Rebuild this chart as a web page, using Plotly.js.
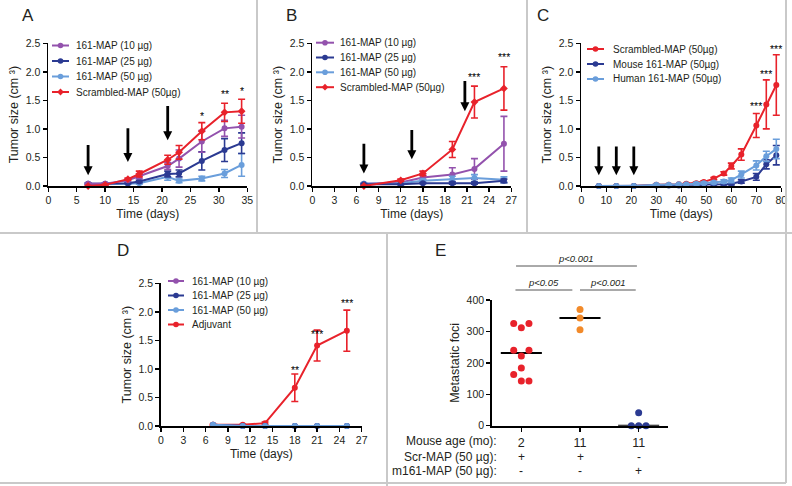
<!DOCTYPE html>
<html><head><meta charset="utf-8">
<script src="https://cdn.plot.ly/plotly-3.0.1.min.js"></script>
<style>html,body{margin:0;padding:0;background:#fff}#chart{width:792px;height:486px}</style>
</head><body><div id="chart"></div>
<script>
// ---------- Panel A ----------
const daysA = [7, 10, 14, 16, 21, 23, 27, 31, 34];
const a10 = [0.04, 0.04, 0.10, 0.17, 0.35, 0.48, 0.78, 1.01, 1.04];
const a10Err = [0.01, 0.01, 0.02, 0.04, 0.06, 0.15, 0.19, 0.14, 0.20];
const a25 = [0.04, 0.04, 0.05, 0.08, 0.21, 0.22, 0.44, 0.63, 0.75];
const a25Err = [0.01, 0.01, 0.01, 0.02, 0.05, 0.06, 0.16, 0.20, 0.18];
const a50 = [0.04, 0.03, 0.04, 0.05, 0.16, 0.09, 0.13, 0.22, 0.37];
const a50Err = [0.01, 0.01, 0.01, 0.02, 0.06, 0.03, 0.04, 0.07, 0.20];
const aScr = [0.00, 0.02, 0.12, 0.21, 0.46, 0.59, 0.96, 1.29, 1.31];
const aScrErr = [0.01, 0.01, 0.02, 0.05, 0.08, 0.12, 0.15, 0.16, 0.21];
const aInjection = [7, 14, 21];
const aStarsX = [27, 31, 34];
const aStarsY = [1.27, 1.65, 1.71];
const aStars = ['*', '**', '*'];

// ---------- Panel B ----------
const daysB = [7, 12, 15, 19, 22, 26];
const b10 = [0.04, 0.06, 0.15, 0.20, 0.30, 0.74];
const b10Err = [0.01, 0.02, 0.04, 0.12, 0.18, 0.48];
const b25 = [0.03, 0.03, 0.05, 0.05, 0.05, 0.09];
const b25Err = [0.01, 0.01, 0.01, 0.02, 0.02, 0.03];
const b50 = [0.04, 0.05, 0.09, 0.12, 0.14, 0.11];
const b50Err = [0.01, 0.01, 0.03, 0.05, 0.06, 0.05];
const bScr = [0.00, 0.10, 0.22, 0.64, 1.47, 1.71];
const bScrErr = [0.01, 0.02, 0.04, 0.14, 0.28, 0.38];
const bInjection = [7, 13.5, 20.7];
const bStarsX = [22, 26];
const bStarsY = [1.95, 2.30];
const bStars = ['***', '***'];

// ---------- Panel C ----------
const daysC = [7, 14, 21, 30, 35, 39, 42, 46, 49, 53, 57, 60, 64, 70, 74, 78];
const cScr = [0, 0, 0, 0.02, 0.02, 0.03, 0.04, 0.05, 0.07, 0.13, 0.22, 0.35, 0.55, 1.06, 1.43, 1.77];
const cScrErr = [0, 0, 0, 0.01, 0.01, 0.01, 0.01, 0.02, 0.02, 0.02, 0.03, 0.05, 0.10, 0.21, 0.43, 0.53];
const cMouse = [0, 0, 0, 0.01, 0.01, 0.01, 0.02, 0.02, 0.02, 0.03, 0.03, 0.04, 0.08, 0.16, 0.38, 0.54];
const cMouseErr = [0, 0, 0, 0.005, 0.005, 0.01, 0.01, 0.01, 0.01, 0.01, 0.01, 0.02, 0.03, 0.06, 0.08, 0.17];
const cHuman = [0, 0, 0, 0.02, 0.02, 0.03, 0.03, 0.04, 0.05, 0.06, 0.08, 0.10, 0.20, 0.36, 0.52, 0.65];
const cHumanErr = [0, 0, 0, 0.01, 0.01, 0.01, 0.01, 0.02, 0.02, 0.02, 0.03, 0.04, 0.06, 0.08, 0.09, 0.17];
const cInjection = [7, 14, 21];
const cStarsX = [70, 74, 78];
const cStarsY = [1.45, 2.00, 2.44];
const cStars = ['***', '***', '***'];

// ---------- Panel D ----------
const daysD = [7, 11, 14, 18, 21, 25];
const d10 = [0.02, 0, 0, 0, 0, 0];
const d25 = [0.02, 0, 0, 0, 0, 0];
const d50 = [0.02, 0, 0, 0, 0, 0];
const dAdj = [0.02, 0.02, 0.05, 0.67, 1.41, 1.67];
const dAdjErr = [0.01, 0.01, 0.02, 0.24, 0.27, 0.36];
const dStarsX = [18, 21, 25];
const dStarsY = [1.02, 1.65, 2.19];
const dStars = ['**', '***', '***'];

// ---------- Panel E ----------
const eAges = ['2', '11', '11'];
const eScr = ['+', '+', '-'];
const eM161 = ['-', '-', '+'];
const eYoungScr = [325, 325, 312, 240, 240, 222, 184, 163, 142, 142];
const eOldScr = [370, 343, 305];
const eOldM161 = [41, 0, 0, 0];
const eJitterYoung = [-0.13, 0.13, 0, -0.13, 0.13, 0, 0, -0.13, 0, 0.13];
const eJitterOld = [0, 0, 0];
const eJitterM161 = [0, -0.125, 0, 0.125];
const ePvalues = ['p&lt;0.001', 'p&lt;0.05', 'p&lt;0.001'];

// ---------- styling ----------
const PURPLE = '#9352ad', NAVY = '#2b3a92', LIGHT = '#6a9edb', RED = '#e8222b', ORANGE = '#f28a2a';
const FONT = 'Liberation Sans, Arial, Helvetica, sans-serif';
const TXT = '#231f20';
const W = 792, H = 486;
const px = x => x / W;
const py = y => 1 - y / H;

function series(xa, ya, x, y, err, color, name, symbol) {
  const t = {
    type: 'scatter', mode: 'lines+markers', x: x, y: y, name: name,
    xaxis: xa, yaxis: ya, showlegend: false, cliponaxis: false,
    line: {color: color, width: 2},
    marker: {color: color, size: 6, symbol: symbol || 'circle'},
    error_y: {visible: false}
  };
  if (err) t.error_y = {type: 'data', array: err, visible: true, color: color, thickness: 1.6, width: 3.5};
  return t;
}

const data = [
  series('x', 'y', daysA, a50, a50Err, LIGHT, '161-MAP (50 µg)'),
  series('x', 'y', daysA, a25, a25Err, NAVY, '161-MAP (25 µg)'),
  series('x', 'y', daysA, a10, a10Err, PURPLE, '161-MAP (10 µg)'),
  series('x', 'y', daysA, aScr, aScrErr, RED, 'Scrambled-MAP (50µg)', 'diamond'),

  series('x2', 'y2', daysB, b10, b10Err, PURPLE, '161-MAP (10 µg)'),
  series('x2', 'y2', daysB, b50, b50Err, LIGHT, '161-MAP (50 µg)'),
  series('x2', 'y2', daysB, b25, b25Err, NAVY, '161-MAP (25 µg)'),
  series('x2', 'y2', daysB, bScr, bScrErr, RED, 'Scrambled-MAP (50µg)', 'diamond'),

  series('x3', 'y3', daysC, cScr, cScrErr, RED, 'Scrambled-MAP (50µg)'),
  series('x3', 'y3', daysC, cMouse, cMouseErr, NAVY, 'Mouse 161-MAP (50µg)'),
  series('x3', 'y3', daysC, cHuman, cHumanErr, LIGHT, 'Human 161-MAP (50µg)'),

  series('x4', 'y4', daysD, dAdj, dAdjErr, RED, 'Adjuvant'),
  series('x4', 'y4', daysD, d10, null, PURPLE, '161-MAP (10 µg)'),
  series('x4', 'y4', daysD, d25, null, NAVY, '161-MAP (25 µg)'),
  series('x4', 'y4', daysD, d50, null, LIGHT, '161-MAP (50 µg)')
];

// Panel E scatter groups
const eGroups = [
  {vals: eYoungScr, jit: eJitterYoung, cat: 0, color: RED},
  {vals: eOldScr, jit: eJitterOld, cat: 1, color: ORANGE},
  {vals: eOldM161, jit: eJitterM161, cat: 2, color: NAVY}
];
function median(a) {
  const s = a.slice().sort((p, q) => p - q), n = s.length;
  return n % 2 ? s[(n - 1) / 2] : (s[n / 2 - 1] + s[n / 2]) / 2;
}
eGroups.forEach(g => {
  const m = median(g.vals);
  data.push({type: 'scatter', mode: 'lines', xaxis: 'x5', yaxis: 'y5', showlegend: false,
    x: [g.cat - 0.35, g.cat + 0.35], y: [m, m], line: {color: '#000', width: 2}, cliponaxis: false});
});
eGroups.forEach(g => {
  data.push({type: 'scatter', mode: 'markers', xaxis: 'x5', yaxis: 'y5', showlegend: false,
    cliponaxis: false, x: g.vals.map((v, i) => g.cat + g.jit[i]), y: g.vals,
    marker: {color: g.color, size: 7}});
});

const AXW = 1.8;
function xax(domain, range, dtick, anchor, title) {
  const a = {
    domain: domain.map(px), range: range, dtick: dtick, tick0: 0, anchor: anchor,
    showline: true, linecolor: '#000', linewidth: AXW, ticks: 'outside', ticklen: 4,
    tickwidth: 1.5, tickcolor: '#000', showgrid: false, zeroline: false,
    tickfont: {family: FONT, size: 10.5, color: TXT}
  };
  if (title) a.title = {text: title, font: {family: FONT, size: 12, color: TXT}, standoff: 4};
  return a;
}
function yax(domain, range, dtick, anchor, title, fmt) {
  return {
    domain: [py(domain[1]), py(domain[0])], range: range, dtick: dtick, tick0: 0, anchor: anchor,
    showline: true, linecolor: '#000', linewidth: AXW, ticks: 'outside', ticklen: 4,
    tickwidth: 1.5, tickcolor: '#000', showgrid: false, zeroline: false, tickformat: fmt,
    tickfont: {family: FONT, size: 10.5, color: TXT},
    title: {text: title, font: {family: FONT, size: 12.5, color: TXT}, standoff: 4}
  };
}
const TSIZE = 'Tumor size (cm \u00b3)';
const TIME = 'Time (days)';

const layout = {
  width: W, height: H, margin: {l: 0, r: 0, t: 0, b: 0},
  paper_bgcolor: '#fff', plot_bgcolor: 'rgba(0,0,0,0)', showlegend: false,
  font: {family: FONT, color: TXT},
  xaxis: xax([48.3, 247.3], [0, 35], 5, 'y', TIME),
  yaxis: yax([43.3, 186], [0, 2.5], 0.5, 'x', TSIZE, '.1f'),
  xaxis2: xax([312.3, 511.3], [0, 27], 3, 'y2', TIME),
  yaxis2: yax([43.3, 186], [0, 2.5], 0.5, 'x2', TSIZE, '.1f'),
  xaxis3: xax([581.3, 781.3], [0, 80], 10, 'y3', TIME),
  yaxis3: yax([43.3, 186], [0, 2.5], 0.5, 'x3', TSIZE, '.1f'),
  xaxis4: xax([161, 361.7], [0, 27], 3, 'y4', TIME),
  yaxis4: yax([283.3, 426], [0, 2.5], 0.5, 'x4', TSIZE, '.1f'),
  xaxis5: Object.assign(xax([492, 668], [-0.5, 2.5], 1, 'y5', null), {
    tickmode: 'array', tickvals: [0, 1, 2], ticktext: eAges,
    tickfont: {family: FONT, size: 12.5, color: TXT}}),
  yaxis5: yax([300, 425.7], [0, 400], 100, 'x5', 'Metastatic foci'),
  shapes: [], annotations: []
};

// panel frames
const BORDER = '#c9c9c9';
[[0, 233, 792, 233], [257, 0, 257, 233], [527, 0, 527, 233], [387, 233, 387, 486],
 [786, 0, 786, 483], [0, 483, 786, 483]].forEach(b => {
  layout.shapes.push({type: 'line', xref: 'paper', yref: 'paper', x0: px(b[0]), y0: py(b[1]),
    x1: px(b[2]), y1: py(b[3]), line: {color: BORDER, width: 2}});
});

// panel letters
[['A', 28, 15], ['B', 291, 15], ['C', 543, 15], ['D', 123, 250], ['E', 440, 250]].forEach(l => {
  layout.annotations.push({text: l[0], xref: 'paper', yref: 'paper', x: px(l[1]), y: py(l[2]),
    showarrow: false, xanchor: 'center', yanchor: 'middle', font: {family: FONT, size: 17, color: TXT}});
});

// manual legends
function legend(names, colors, symbols, rows, lx0, lx1, tx) {
  names.forEach((n, i) => {
    const y = rows[i];
    layout.shapes.push({type: 'line', xref: 'paper', yref: 'paper', x0: px(lx0), x1: px(lx1),
      y0: py(y), y1: py(y), line: {color: colors[i], width: 2}});
    const cx = (lx0 + lx1) / 2, r = 2.8;
    if (symbols[i] === 'diamond') {
      layout.shapes.push({type: 'path', xref: 'paper', yref: 'paper',
        path: `M${px(cx)},${py(y - 3.4)} L${px(cx + 3.4)},${py(y)} L${px(cx)},${py(y + 3.4)} L${px(cx - 3.4)},${py(y)} Z`,
        fillcolor: colors[i], line: {width: 0}});
    } else {
      layout.shapes.push({type: 'circle', xref: 'paper', yref: 'paper', x0: px(cx - r), x1: px(cx + r),
        y0: py(y + r), y1: py(y - r), fillcolor: colors[i], line: {width: 0}});
    }
    layout.annotations.push({text: n, xref: 'paper', yref: 'paper', x: px(tx), y: py(y),
      xanchor: 'left', yanchor: 'middle', showarrow: false, font: {family: FONT, size: 10, color: TXT}});
  });
}
const namesABD = ['161-MAP (10 µg)', '161-MAP (25 µg)', '161-MAP (50 µg)'];
legend(namesABD.concat(['Scrambled-MAP (50µg)']), [PURPLE, NAVY, LIGHT, RED],
  ['circle', 'circle', 'circle', 'diamond'], [45.5, 61, 76.5, 92], 52, 69, 74);
legend(namesABD.concat(['Scrambled-MAP (50µg)']), [PURPLE, NAVY, LIGHT, RED],
  ['circle', 'circle', 'circle', 'diamond'], [42.7, 57.5, 72.3, 87.2], 316, 334, 338);
legend(['Scrambled-MAP (50µg)', 'Mouse 161-MAP (50µg)', 'Human 161-MAP (50µg)'], [RED, NAVY, LIGHT],
  ['circle', 'circle', 'circle'], [49, 64, 79], 587, 604, 611);
legend(namesABD.concat(['Adjuvant']), [PURPLE, NAVY, LIGHT, RED],
  ['circle', 'circle', 'circle', 'circle'], [281, 295.5, 310, 324.5], 168, 184, 190);

// injection arrows drawn as shapes in data coordinates
// pxX / pxY: pixels per data unit of each subplot, used only to size the arrow heads
function arrows(xr, yr, pxX, pxY, days, tips, tails) {
  const hl = 9 / pxY, hw = 4.5 / pxX;
  days.forEach((d, i) => {
    layout.shapes.push({type: 'line', xref: xr, yref: yr, x0: d, x1: d, y0: tails[i], y1: tips[i] + hl * 0.8,
      line: {color: '#000', width: 2.8}});
    layout.shapes.push({type: 'path', xref: xr, yref: yr,
      path: `M${d - hw},${tips[i] + hl} L${d + hw},${tips[i] + hl} L${d},${tips[i]} Z`,
      fillcolor: '#000', line: {width: 0}});
  });
}
const pyTop = 142.7 / 2.5;
arrows('x', 'y', 199 / 35, pyTop, aInjection, [0.19, 0.42, 0.80], [0.72, 1.01, 1.40]);
arrows('x2', 'y2', 199 / 27, pyTop, bInjection, [0.22, 0.47, 1.31], [0.74, 0.98, 1.84]);
arrows('x3', 'y3', 200 / 80, pyTop, cInjection, [0.19, 0.19, 0.19], [0.69, 0.69, 0.69]);

// significance stars
function stars(xr, yr, xs, ys, labels) {
  xs.forEach((x, i) => {
    layout.annotations.push({xref: xr, yref: yr, x: x, y: ys[i], text: labels[i], showarrow: false,
      yanchor: 'middle', yshift: -2.5, font: {family: FONT, size: 10.5, color: '#000'}});
  });
}
stars('x', 'y', aStarsX, aStarsY, aStars);
stars('x2', 'y2', bStarsX, bStarsY, bStars);
stars('x3', 'y3', cStarsX, cStarsY, cStars);
stars('x4', 'y4', dStarsX, dStarsY, dStars);

// panel E: comparison brackets
const eCat = c => (492 + (c + 0.5) * (176 / 3));
[[-0.09, 1.97, 266, 0], [-0.1, 0.87, 290, 1], [1.0, 1.95, 290, 2]].forEach(b => {
  layout.shapes.push({type: 'line', xref: 'paper', yref: 'paper', x0: px(eCat(b[0])), x1: px(eCat(b[1])),
    y0: py(b[2]), y1: py(b[2]), line: {color: '#555', width: 1}});
  layout.annotations.push({xref: 'paper', yref: 'paper', x: px(eCat((b[0] + b[1]) / 2)), y: py(b[2] - 8),
    text: '<i>' + ePvalues[b[3]] + '</i>', showarrow: false, xanchor: 'center', yanchor: 'middle',
    font: {family: FONT, size: 9.5, color: TXT}});
});

// panel E: treatment table
const rowLabels = ['Mouse age (mo):', 'Scr-MAP (50 µg):', 'm161-MAP (50 µg):'];
const rowY = [441, 457, 470.5];
rowLabels.forEach((t, i) => {
  layout.annotations.push({xref: 'paper', yref: 'paper', x: px(499), y: py(rowY[i]), text: t,
    xanchor: 'right', yanchor: 'middle', showarrow: false, font: {family: FONT, size: 12, color: TXT}});
});
[eScr, eM161].forEach((row, r) => {
  row.forEach((s, c) => {
    layout.annotations.push({xref: 'x5', yref: 'paper', x: c, y: py(rowY[r + 1]), text: s,
      xanchor: 'center', yanchor: 'middle', showarrow: false, font: {family: FONT, size: 12, color: TXT}});
  });
});

Plotly.newPlot('chart', data, layout, {staticPlot: true, displayModeBar: false}).then(gd => {
  // drop empty placeholder text nodes that Plotly leaves behind
  gd.querySelectorAll('text').forEach(t => { if (!t.textContent.replace(/[\s\u200b]/g, '')) t.remove(); });
});
</script>
</body></html>
